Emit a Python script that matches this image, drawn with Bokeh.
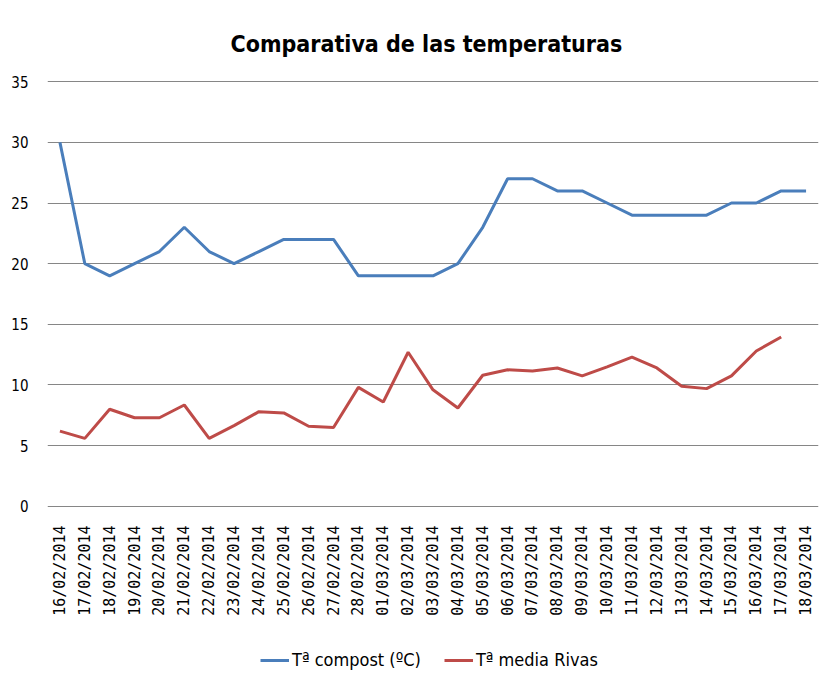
import numpy as np
from bokeh.plotting import figure
from bokeh.layouts import column
from bokeh.models import (ColumnDataSource, FactorRange, Range1d, Legend, LegendItem,
                          FixedTicker, Title)
from bokeh.embed import file_html
from bokeh.resources import INLINE

dates = ["16/02/2014", "17/02/2014", "18/02/2014", "19/02/2014", "20/02/2014",
         "21/02/2014", "22/02/2014", "23/02/2014", "24/02/2014", "25/02/2014",
         "26/02/2014", "27/02/2014", "28/02/2014", "01/03/2014", "02/03/2014",
         "03/03/2014", "04/03/2014", "05/03/2014", "06/03/2014", "07/03/2014",
         "08/03/2014", "09/03/2014", "10/03/2014", "11/03/2014", "12/03/2014",
         "13/03/2014", "14/03/2014", "15/03/2014", "16/03/2014", "17/03/2014",
         "18/03/2014"]
t_compost = [30, 20, 19, 20, 21, 23, 21, 20, 21, 22, 22, 22, 19, 19, 19, 19,
             20, 23, 27, 27, 26, 26, 25, 24, 24, 24, 24, 25, 25, 26, 26]
t_rivas = [6.2, 5.6, 8.0, 7.3, 7.3, 8.35, 5.6, 6.65, 7.8, 7.7, 6.6, 6.5, 9.8,
           8.6, 12.7, 9.6, 8.1, 10.8, 11.25, 11.15, 11.4, 10.75, 11.5, 12.3,
           11.4, 9.9, 9.7, 10.75, 12.8, 13.95, np.nan]
y_ticks = [0, 5, 10, 15, 20, 25, 30, 35]
title_text = "Comparativa de las temperaturas"
series_names = ["Tª compost (ºC)", "Tª media Rivas"]
colors = ["#4A7EBB", "#BE4B48"]

COND = "DejaVu Sans Condensed"

p = figure(width=823, height=618, output_backend="svg", toolbar_location=None,
           x_range=FactorRange(factors=dates, range_padding=0),
           y_range=Range1d(-0.1, 35.1),
           min_border_left=37, min_border_right=5, min_border_top=80,
           min_border_bottom=111)
p.outline_line_color = None
p.background_fill_color = "white"
p.border_fill_color = "white"

t = Title(text=title_text, align="left", text_font=COND, text_font_size="23px",
          text_font_style="bold", text_color="black", offset=183, standoff=48)
p.add_layout(t, "above")

src = ColumnDataSource(dict(x=dates, a=t_compost, b=t_rivas))
r1 = p.line("x", "a", source=src, line_color=colors[0], line_width=3)
r2 = p.line("x", "b", source=src, line_color=colors[1], line_width=3)

p.xgrid.grid_line_color = None
p.ygrid.grid_line_color = "#868686"
p.ygrid.grid_line_width = 1
p.yaxis.ticker = FixedTicker(ticks=y_ticks)

p.yaxis.axis_line_color = None
p.yaxis.major_tick_line_color = None
p.yaxis.minor_tick_line_color = None
p.yaxis.major_label_standoff = 13
p.yaxis.major_label_text_font = COND
p.yaxis.major_label_text_font_size = "15px"
p.yaxis.major_label_text_color = "black"
# blank spacer label keeps the plot area at the reference's left edge
p.yaxis.axis_label = " "
p.yaxis.axis_label_text_font_size = "4px"
p.yaxis.axis_label_standoff = 0

p.xaxis.axis_line_color = None
p.xaxis.major_tick_line_color = None
p.xaxis.minor_tick_line_color = None
p.xaxis.major_label_orientation = np.pi / 2
p.xaxis.major_label_standoff = 12
p.xaxis.major_label_text_font = "DejaVu Sans Mono"
p.xaxis.major_label_text_font_size = "15px"
p.xaxis.major_label_text_color = "black"

# legend strip below the chart
p2 = figure(width=823, height=53, output_backend="svg", toolbar_location=None,
            x_range=Range1d(0, 1), y_range=Range1d(0, 1),
            x_axis_location=None, y_axis_location=None,
            min_border=0, min_border_left=0, min_border_right=0,
            min_border_top=0, min_border_bottom=0)
p2.outline_line_color = None
p2.grid.visible = False
p2.background_fill_color = "white"
p2.border_fill_color = "white"
l1 = p2.line(x=[-5, -4], y=[-5, -5], line_color=colors[0], line_width=3)
l2 = p2.line(x=[-5, -4], y=[-5, -5], line_color=colors[1], line_width=3)
legend = Legend(items=[LegendItem(label=series_names[0], renderers=[l1]),
                       LegendItem(label=series_names[1], renderers=[l2])],
                orientation="horizontal", location=(213, 1),
                border_line_color=None, background_fill_alpha=0,
                label_text_font=COND, label_text_font_size="18px",
                label_text_color="black",
                glyph_width=29, glyph_height=20, spacing=23, label_standoff=3,
                margin=0, padding=0)
p2.add_layout(legend, "center")

layout = column(p, p2, spacing=0)
open("out.html", "w").write(file_html(layout, INLINE))
